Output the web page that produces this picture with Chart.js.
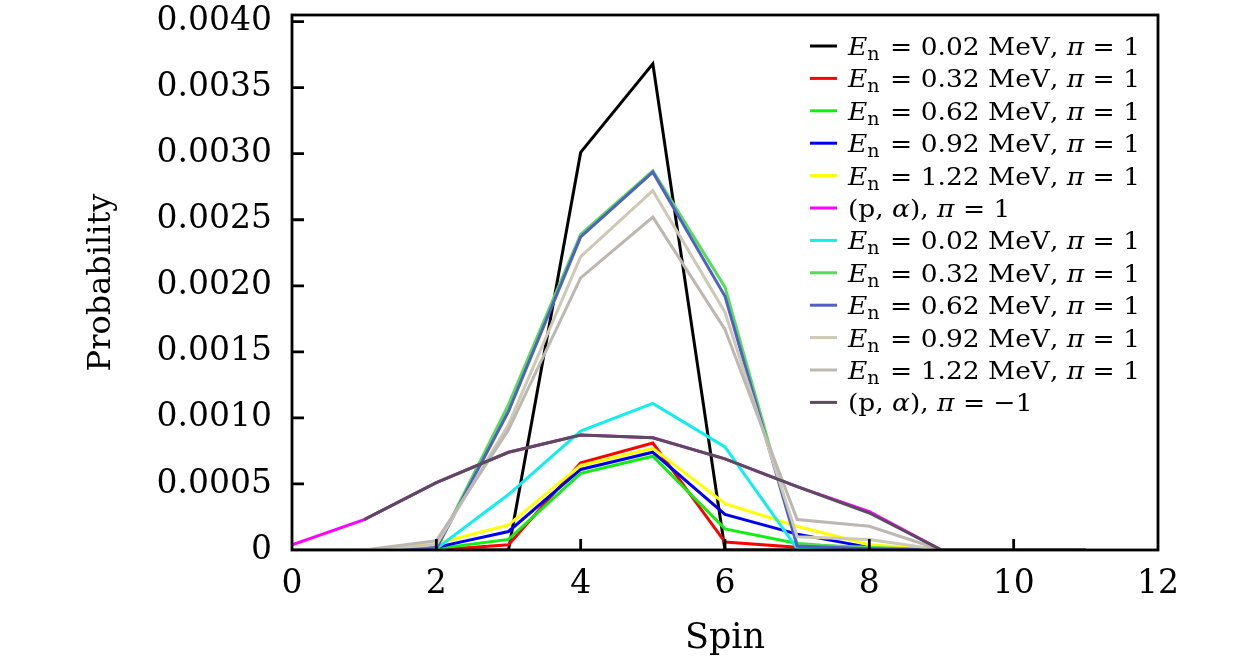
<!DOCTYPE html>
<html lang="en">
<head>
<meta charset="UTF-8">
<title>Spin probability</title>
<script src="https://cdn.jsdelivr.net/npm/chart.js@4.4.0/dist/chart.umd.min.js"></script>
<style>
  html, body { margin: 0; padding: 0; background: #fff; }
</style>
</head>
<body>
<canvas id="canvas" width="1260" height="669"></canvas>
<script>
// spin values on the x axis
const spin = [0, 1, 2, 3, 4, 5, 6, 7, 8, 9, 10, 11];

// probabilities, one array per curve
const en002a = [0, 0, 0, 0, 0.00301, 0.00368, 0, 0, 0, 0, 0, 0];
const en032a = [0, 0, 0, 0.00004, 0.00066, 0.00081, 0.00006, 0.00002, 0.00001, 0, 0, 0];
const en062a = [0, 0, 0.00001, 0.00008, 0.00058, 0.00071, 0.00016, 0.00005, 0.00001, 0, 0, 0];
const en092a = [0, 0, 0.00002, 0.00014, 0.00061, 0.00074, 0.00027, 0.00012, 0.00002, 0, 0, 0];
const en122a = [0, 0, 0.00005, 0.00019, 0.00064, 0.00077, 0.00035, 0.00018, 0.00004, 0, 0, 0];
const pAlphaA = [0.00004, 0.00023, 0.00051, 0.00074, 0.00087, 0.00085, 0.00069, 0.00048, 0.00029, 0, 0, 0];
const en002b = [0, 0, 0.00001, 0.00042, 0.00090, 0.00111, 0.00078, 0.00001, 0, 0, 0, 0];
const en032b = [0, 0, 0.00001, 0.00110, 0.00239, 0.00287, 0.00199, 0.00004, 0.00002, 0, 0, 0];
const en062b = [0, 0, 0.00001, 0.00105, 0.00237, 0.00286, 0.00192, 0.00003, 0.00001, 0, 0, 0];
const en092b = [0, 0, 0.00004, 0.00095, 0.00222, 0.00272, 0.00180, 0.00010, 0.00008, 0, 0, 0];
const en122b = [0, 0, 0.00007, 0.00091, 0.00206, 0.00252, 0.00167, 0.00023, 0.00018, 0, 0, 0];
const pAlphaB = [null, 0.00023, 0.00051, 0.00074, 0.00087, 0.00085, 0.00069, 0.00048, 0.00028, 0, 0, 0];

const labels = [
  'Eₙ = 0.02 MeV, π = 1', 'Eₙ = 0.32 MeV, π = 1', 'Eₙ = 0.62 MeV, π = 1',
  'Eₙ = 0.92 MeV, π = 1', 'Eₙ = 1.22 MeV, π = 1', '(p, α), π = 1',
  'Eₙ = 0.02 MeV, π = 1', 'Eₙ = 0.32 MeV, π = 1', 'Eₙ = 0.62 MeV, π = 1',
  'Eₙ = 0.92 MeV, π = 1', 'Eₙ = 1.22 MeV, π = 1', '(p, α), π = −1'
];
const colors = [
  '#000000', '#ff0000', '#11ee11', '#0000ee', '#ffff00', '#ff00ff',
  '#11eeee', '#55dd55', '#5060c8', '#cdc9b4', '#bdb7b1', '#5a4b5e'
];
const series = [en002a, en032a, en062a, en092a, en122a, pAlphaA,
                en002b, en032b, en062b, en092b, en122b, pAlphaB];

Chart.defaults.font.family = "'DejaVu Serif', serif";
Chart.defaults.color = '#000';

const FONT = "px 'DejaVu Serif'";

// draws one legend label, italic E with subscript n, italic greek letters
function drawLabel(ctx, text, fs, measureOnly) {
  let cx = 0;
  let rest = text;
  if (rest.startsWith('Eₙ')) {
    ctx.font = 'italic ' + fs + FONT;
    if (!measureOnly) ctx.fillText('E', cx, 0);
    cx += ctx.measureText('E').width;
    ctx.font = Math.round(fs * 0.7) + FONT;
    if (!measureOnly) ctx.fillText('n', cx, 5);
    cx += ctx.measureText('n').width + 2;
    rest = rest.slice(2);
  }
  for (const ch of rest) {
    ctx.font = (ch === 'π' || ch === 'α' ? 'italic ' : '') + fs + FONT;
    if (!measureOnly) ctx.fillText(ch, cx, 0);
    cx += ctx.measureText(ch).width;
  }
  return cx;
}

// frame, inward ticks and the legend inside the plot
const framePlugin = {
  id: 'frame',
  afterDraw(chart) {
    const ctx = chart.ctx;
    const a = chart.chartArea;
    const xs = chart.scales.x, ys = chart.scales.y;
    ctx.save();
    ctx.strokeStyle = '#000';
    ctx.lineWidth = 2.8;
    ctx.strokeRect(a.left, a.top, a.right - a.left, a.bottom - a.top);
    ctx.beginPath();
    [2, 4, 6, 8, 10].forEach(v => {
      const px = xs.getPixelForValue(v);
      ctx.moveTo(px, a.bottom);
      ctx.lineTo(px, a.bottom - 11);
    });
    for (let v = 0.0005; v <= 0.00401; v += 0.0005) {
      const py = ys.getPixelForValue(v);
      ctx.moveTo(a.left, py);
      ctx.lineTo(a.left + 12, py);
    }
    ctx.stroke();

    // legend
    const fs = 25;
    const x0 = a.right - 348, y0 = a.top + 31, rowH = 32.4;
    const sx = 292 / drawLabel(ctx, labels[0], fs, true);
    ctx.fillStyle = '#000';
    ctx.textBaseline = 'alphabetic';
    chart.data.datasets.forEach((ds, i) => {
      const y = y0 + i * rowH;
      ctx.strokeStyle = ds.borderColor;
      ctx.lineWidth = 3;
      ctx.beginPath();
      ctx.moveTo(x0, y);
      ctx.lineTo(x0 + 27, y);
      ctx.stroke();
      ctx.save();
      ctx.translate(x0 + 38, y + 9);
      ctx.scale(sx, 1);
      drawLabel(ctx, ds.label, fs, false);
      ctx.restore();
    });
    ctx.restore();
  }
};

const ctx = document.getElementById('canvas').getContext('2d');
const config = {
  type: 'line',
  data: {
    labels: spin,
    datasets: series.map((d, i) => ({
      label: labels[i],
      data: d,
      borderColor: colors[i],
      backgroundColor: colors[i],
      borderWidth: 3,
      pointRadius: 0,
      tension: 0,
      order: -i
    }))
  },
  options: {
    responsive: false,
    animation: false,
    events: [],
    layout: { padding: { left: 0, right: 102, top: 15, bottom: 0 } },
    plugins: {
      legend: { display: false },
      tooltip: { enabled: false }
    },
    scales: {
      x: {
        type: 'linear',
        min: 0,
        max: 12,
        grid: { display: false, drawTicks: false },
        border: { display: false },
        ticks: { stepSize: 2, font: { size: 33 }, padding: 15, maxRotation: 0 },
        title: { display: true, text: 'Spin', font: { size: 35 }, padding: { top: 0, bottom: 9 } },
        afterFit: s => { s.height = 119; s.paddingLeft = 0; s.paddingRight = 0; }
      },
      y: {
        min: 0,
        max: 0.00405,
        grid: { display: false, drawTicks: false },
        border: { display: false },
        ticks: {
          stepSize: 0.0005,
          includeBounds: false,
          font: { size: 33 },
          padding: 20,
          callback: v => (v === 0 ? '0' : v.toFixed(4))
        },
        title: { display: true, text: 'Probability', font: { size: 32 }, padding: { top: 82, bottom: 0 } },
        afterFit: s => { s.width = 292; s.paddingTop = 0; s.paddingBottom = 0; }
      }
    }
  },
  plugins: [framePlugin]
};

const chart = new Chart(ctx, config);
</script>
</body>
</html>
